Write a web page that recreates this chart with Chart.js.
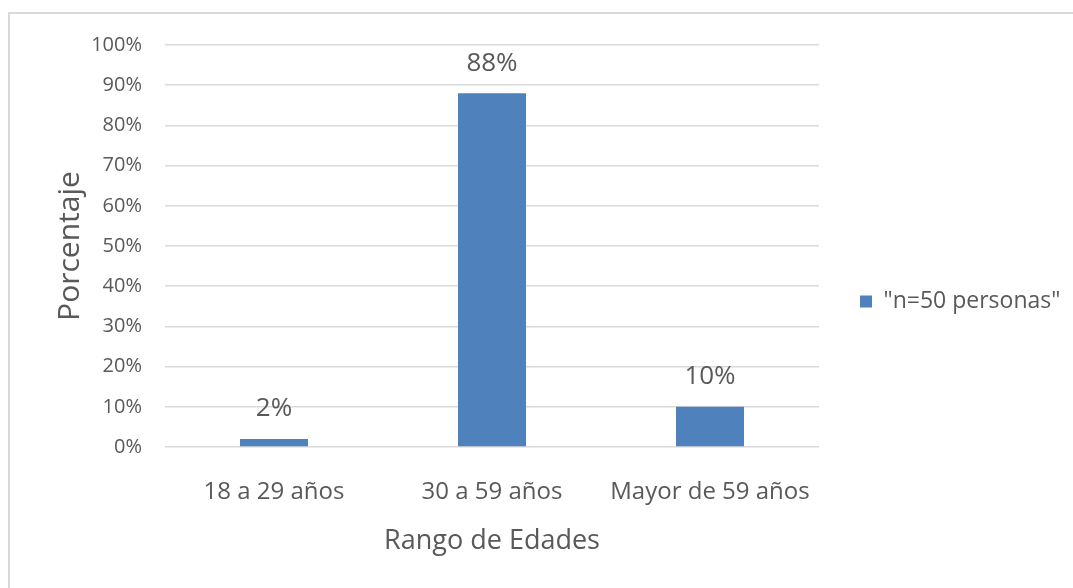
<!DOCTYPE html>
<html>
<head>
<meta charset="utf-8">
<script src="https://cdn.jsdelivr.net/npm/chart.js@4/dist/chart.umd.min.js"></script>
<style>
  html, body { margin: 0; padding: 0; background: #fff; overflow: hidden; }
  #frame {
    position: absolute; left: 8px; top: 12px; width: 1100px; height: 600px;
    border-left: 2px solid #d9d9d9; border-top: 2px solid #d9d9d9;
  }
  #chart { position: absolute; left: 0; top: 0; }
</style>
</head>
<body>
<div id="frame"></div>
<canvas id="chart" width="1073" height="588"></canvas>
<script>
  const categories = ["18 a 29 años", "30 a 59 años", "Mayor de 59 años"];
  const seriesName = "\"n=50 personas\"";
  const percentValues = [2, 88, 10];
  const yTicks = [0, 10, 20, 30, 40, 50, 60, 70, 80, 90, 100];

  const FONT = "'Open Sans', sans-serif";
  const TEXT = "#595959";
  const BAR = "#4f81bd";
  const GRID = "#d9d9d9";

  const legendFontSize = 23;
  const legendPad = 41;
  const plotRight = 818;
  const bottomPad = 30;

  const barLabels = {
    id: "barLabels",
    afterDatasetsDraw(chart) {
      const { ctx } = chart;
      const meta = chart.getDatasetMeta(0);
      ctx.save();
      ctx.font = `26px ${FONT}`;
      ctx.fillStyle = TEXT;
      ctx.textAlign = "center";
      ctx.textBaseline = "middle";
      meta.data.forEach((bar, i) => {
        ctx.fillText(`${percentValues[i]}%`, bar.x, bar.y - 30);
      });
      ctx.restore();
    },
  };

  const draw = () => {
    // how wide the legend box gets, so the plot ends where the reference does
    const measure = document.createElement("canvas").getContext("2d");
    measure.font = `${legendFontSize}px ${FONT}`;
    const legendTextWidth = measure.measureText(seriesName).width;
    const legendWidth = legendPad + 12 + legendFontSize / 2 + legendTextWidth + 11;
    const rightPad = Math.max(0, 1073 - plotRight - legendWidth);

    new Chart(document.getElementById("chart"), {
      type: "bar",
      data: {
        labels: categories,
        datasets: [
          {
            label: seriesName,
            data: percentValues,
            backgroundColor: BAR,
            borderWidth: 0,
            barPercentage: 0.312,
            categoryPercentage: 1,
          },
        ],
      },
      options: {
        responsive: false,
        animation: false,
        layout: {
          padding: { left: 52, top: 45, right: rightPad, bottom: bottomPad },
        },
        plugins: {
          tooltip: { enabled: false },
          legend: {
            position: "right",
            align: "center",
            labels: {
              color: TEXT,
              font: { family: FONT, size: legendFontSize },
              boxWidth: 12,
              boxHeight: 12,
              padding: legendPad,
            },
          },
        },
        scales: {
          x: {
            grid: { display: false },
            border: { display: false },
            ticks: {
              color: TEXT,
              font: { family: FONT, size: 24 },
              padding: 23,
              maxRotation: 0,
            },
            title: {
              display: true,
              text: "Rango de Edades",
              color: TEXT,
              font: { family: FONT, size: 27 },
              padding: 0,
            },
            afterFit(scale) {
              scale.height = 588 - bottomPad - 447;
            },
          },
          y: {
            min: 0,
            max: 100,
            afterBuildTicks(scale) {
              scale.ticks = yTicks.map((value) => ({ value }));
            },
            grid: { color: GRID, lineWidth: 1.5, drawTicks: false },
            border: { display: false },
            ticks: {
              color: TEXT,
              font: { family: FONT, size: 20 },
              padding: 23,
              callback: (value) => `${value}%`,
            },
            title: {
              display: true,
              text: "Porcentaje",
              color: TEXT,
              font: { family: FONT, size: 30 },
              padding: 0,
            },
            afterFit(scale) {
              scale.width = 165 - 52;
            },
          },
        },
      },
      plugins: [barLabels],
    });
  };

  if (document.fonts && document.fonts.load) {
    document.fonts.load(`${legendFontSize}px 'Open Sans'`).then(draw, draw);
  } else {
    draw();
  }
</script>
</body>
</html>
